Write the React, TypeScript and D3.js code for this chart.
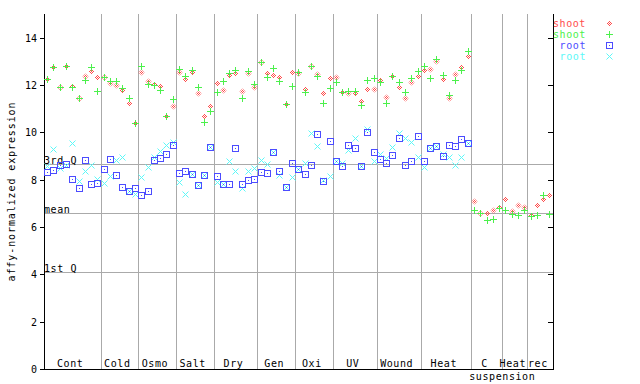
import React from 'react';
import * as d3 from 'd3';

const groupNames = ['Cont', 'Cold', 'Osmo', 'Salt', 'Dry', 'Gen', 'Oxi', 'UV', 'Wound', 'Heat', 'C', 'Heat', 'rec'];
const groupSizes = [9, 6, 6, 6, 7, 6, 6, 7, 7, 8, 5, 4, 4];
const subLabel = 'suspension';

const shootA = [
  12.27, 12.76, 11.92, 12.81, 11.95, 11.46, 12.38, 12.6, 12.34,
  12.33, 12.09, 11.99, 11.79, 11.25, 10.39,
  12.55, 12.17, 12.05, 11.96, 10.71, 11.12,
  12.55, 12.26, 12.55, 11.67, 10.67, 11.12,
  12.09, 11.79, 12.43, 12.51, 11.75, 12.51, 11.92,
  12.98, 12.51, 12.43, 12.34, 11.19, 12.55,
  12.51, 11.84, 12.81, 12.45, 11.67, 12.3,
  12.34, 11.71, 11.67, 11.67, 11.33, 11.84, 11.84,
  12.22, 11.5, 12.38, 11.92, 11.46, 12.13, 12.38,
  12.64, 12.68, 13.02, 12.26, 11.46, 12.47, 12.76, 13.23,
  7.11, 6.61, 6.61, 6.73, 6.86,
  7.2, 6.69, 6.95, 6.86,
  6.52, 6.95, 7.2, 7.37,
];
const shootB = [
  12.26, 12.76, 11.92, 12.82, 11.93, 11.44, 12.22, 12.76, 11.75,
  12.33, 12.17, 12.17, 11.89, 11.47, 10.39,
  12.81, 12.03, 11.99, 11.79, 10.71, 11.39,
  12.68, 12.38, 12.64, 11.92, 10.43, 10.91,
  11.71, 12.17, 12.51, 12.64, 11.46, 12.6, 12.05,
  12.98, 12.34, 12.72, 12.17, 11.19, 11.96,
  12.55, 11.71, 12.81, 12.38, 11.25, 11.88,
  12.13, 11.71, 11.75, 11.75, 11.16, 12.22, 12.3,
  12.13, 11.25, 12.38, 12.13, 11.71, 12.3, 12.6,
  12.81, 12.3, 13.1, 12.43, 11.58, 12.22, 12.64, 13.44,
  6.73, 6.61, 6.31, 6.35, 6.82,
  6.73, 6.57, 6.52, 6.73,
  6.48, 6.52, 7.37, 6.57,
];
const rootA = [
  8.31, 8.42, 8.63, 8.65, 8.04, 7.66, 8.84, 7.83, 7.87,
  8.46, 8.88, 8.21, 7.7, 7.54, 7.66,
  7.37, 7.54, 8.84, 8.93, 9.1, 9.48,
  8.29, 8.38, 8.25, 7.77, 8.21, 9.39,
  8.17, 7.83, 7.83, 9.35, 7.83, 8.0, 8.04,
  8.34, 8.29, 9.18, 8.38, 7.7, 8.72,
  8.46, 8.25, 8.63, 9.94, 7.95, 9.64,
  8.8, 8.59, 9.48, 9.35, 8.59, 10.02, 9.18,
  8.88, 8.72, 9.05, 9.77, 8.63, 8.8, 9.85,
  8.8, 9.35, 9.43, 9.01, 9.48, 9.43, 9.73, 9.56,
  null, null, null, null, null,
  null, null, null, null,
  null, null, null, null,
];
const rootB = [
  8.57, 9.28, 8.5, 8.63, 9.56, 7.96, 8.38, 8.63, 8.04,
  7.87, 8.17, 8.84, 8.97, 7.54, 7.41,
  8.12, 8.55, 8.97, 9.22, 9.48, 9.6,
  7.92, 7.41, 8.25, 7.77, 8.21, 9.39,
  7.92, 7.83, 8.8, 8.38, 7.66, 8.38, 8.5,
  8.84, 8.67, 9.18, 8.21, 7.7, 8.12,
  8.46, 8.72, 9.98, 9.43, 7.98, 8.17,
  8.77, 8.72, 9.27, 9.77, 8.59, 10.15, 8.8,
  9.1, 8.93, 9.39, 9.98, 9.77, 9.6, 8.97,
  8.55, 9.35, 9.43, 9.1, 8.97, 8.63, 8.97, 9.56,
  null, null, null, null, null,
  null, null, null, null,
  null, null, null, null,
];

const refLines = [
  { label: '3rd Q', value: 8.67 },
  { label: 'mean', value: 6.61 },
  { label: '1st Q', value: 4.08 },
];
const yTicks = [0, 2, 4, 6, 8, 10, 12, 14];
const legendLabels = ['shoot', 'shoot', 'root', 'root'];

const RED = '#ff4c4c';
const GREEN = '#4cf04c';
const BLUE = '#4c4cff';
const CYAN = '#5cf8f8';
const GRAY = '#aaaaaa';
const FONT = '"DejaVu Sans Mono", monospace';
const FS = 10;
const LS = 0.6;

const L = 44, R = 552.5, T = 14, B = 369;

type Shape = 'diamond' | 'plus' | 'square' | 'cross';

function Marker({ x, y, shape, color }: { x: number; y: number; shape: Shape; color: string }) {
  const px = Math.round(x);
  const py = Math.round(y);
  if (shape === 'diamond') {
    const cx = px + 0.5, cy = py + 0.5, r = 3;
    return (
      <path d={`M${cx},${cy - r}L${cx + r},${cy}L${cx},${cy + r}L${cx - r},${cy}Z`} fill="url(#chk)" />
    );
  }
  if (shape === 'plus') {
    return (
      <g fill={color} shapeRendering="crispEdges">
        <rect x={px - 3} y={py} width={7} height={1} />
        <rect x={px} y={py - 3} width={1} height={7} />
      </g>
    );
  }
  if (shape === 'square') {
    return (
      <g shapeRendering="crispEdges">
        <rect x={px - 2.5} y={py - 2.5} width={6} height={6} fill="none" stroke={color} strokeWidth={1} />
        <rect x={px} y={py} width={1} height={1} fill={color} />
      </g>
    );
  }
  const a = px - 2.5, b = px + 3.5, c = py - 2.5, d = py + 3.5;
  return <path d={`M${a},${c}L${b},${d}M${b},${c}L${a},${d}`} stroke={color} strokeWidth={1} fill="none" />;
}

export default function App() {
  const n = groupSizes.reduce((s, v) => s + v, 0);
  const idx = d3.range(n);
  const x = d3.scaleBand<number>().domain(idx).range([L, R]);
  const y = d3.scaleLinear().domain([0, 15]).range([B, T]);
  const cx = (i: number) => (x(i) as number) + x.bandwidth() / 2;

  const starts: number[] = [];
  let acc = 0;
  groupSizes.forEach((s) => { starts.push(acc); acc += s; });

  const series: { values: (number | null)[]; shape: Shape; color: string }[] = [
    { values: rootB, shape: 'cross', color: CYAN },
    { values: rootA, shape: 'square', color: BLUE },
    { values: shootA, shape: 'diamond', color: RED },
    { values: shootB, shape: 'plus', color: GREEN },
  ];
  const legendSeries: { shape: Shape; color: string }[] = [
    { shape: 'diamond', color: RED },
    { shape: 'plus', color: GREEN },
    { shape: 'square', color: BLUE },
    { shape: 'cross', color: CYAN },
  ];

  return (
    <svg width={640} height={384} style={{ position: 'absolute', left: 0, top: 0, background: '#fff' }}>
      <defs>
        <pattern id="chk" width={2} height={2} patternUnits="userSpaceOnUse">
          <rect x={0} y={0} width={1} height={1} fill={RED} />
          <rect x={1} y={1} width={1} height={1} fill={RED} />
        </pattern>
      </defs>
      <rect width={640} height={384} fill="#fff" />
      {/* group separators */}
      <g stroke={GRAY} strokeWidth={1} shapeRendering="crispEdges">
        {starts.slice(1).map((s, k) => {
          const xx = Math.round(x(s) as number) + 0.5;
          return <line key={k} x1={xx} x2={xx} y1={T} y2={B} />;
        })}
        {refLines.map((r, k) => {
          const yy = Math.round(y(r.value)) + 0.5;
          return <line key={'h' + k} x1={L} x2={R} y1={yy} y2={yy} />;
        })}
      </g>
      {/* ref line labels */}
      <g fontFamily={FONT} fontSize={FS} letterSpacing={LS} fill="#000">
        {refLines.map((r, k) => (
          <text key={k} x={L} y={Math.round(y(r.value)) - 0.5}>{r.label}</text>
        ))}
      </g>
      {/* axes */}
      <g stroke="#000" strokeWidth={1} shapeRendering="crispEdges" fill="none">
        <line x1={L + 0.5} x2={L + 0.5} y1={T} y2={B + 1} />
        <line x1={R + 0.5} x2={R + 0.5} y1={T} y2={B + 1} />
        <line x1={L} x2={R + 1} y1={B + 0.5} y2={B + 0.5} />
        {yTicks.map((t) => {
          const yy = Math.round(y(t)) + 0.5;
          return (
            <g key={t}>
              <line x1={L - 4} x2={L} y1={yy} y2={yy} />
              <line x1={R - 5} x2={R} y1={yy} y2={yy} />
            </g>
          );
        })}
      </g>
      <g fontFamily={FONT} fontSize={FS} fill="#000" textAnchor="end">
        {yTicks.map((t) => (
          <text key={t} x={37} y={Math.round(y(t)) + 4}>{t}</text>
        ))}
      </g>
      <text
        transform={`translate(15,${(T + B) / 2}) rotate(-90)`}
        textAnchor="middle"
        fontFamily={FONT}
        fontSize={FS}
        letterSpacing={LS + 0.3}
        fill="#000"
      >
        affy-normalized expression
      </text>
      {/* group labels */}
      <g fontFamily={FONT} fontSize={FS} letterSpacing={LS} fill="#000" textAnchor="middle">
        {groupNames.map((g, k) => {
          const x0 = x(starts[k]) as number;
          const x1 = k + 1 < starts.length ? (x(starts[k + 1]) as number) : R;
          return <text key={k} x={(x0 + x1) / 2 - 2} y={367}>{g}</text>;
        })}
        <text x={x(starts[11]) as number} y={380}>{subLabel}</text>
      </g>
      {/* points */}
      {series.map((s, si) => (
        <g key={si}>
          {s.values.map((v, i) =>
            v == null ? null : <Marker key={i} x={cx(i)} y={y(v)} shape={s.shape} color={s.color} />
          )}
        </g>
      ))}
      {/* legend */}
      <g fontFamily={FONT} fontSize={FS} letterSpacing={LS} textAnchor="end">
        {legendLabels.map((l, k) => (
          <g key={k}>
            <text x={586} y={27 + k * 11} fill={legendSeries[k].color}>{l}</text>
            <Marker x={609} y={23 + k * 11} shape={legendSeries[k].shape} color={legendSeries[k].color} />
          </g>
        ))}
      </g>
    </svg>
  );
}
